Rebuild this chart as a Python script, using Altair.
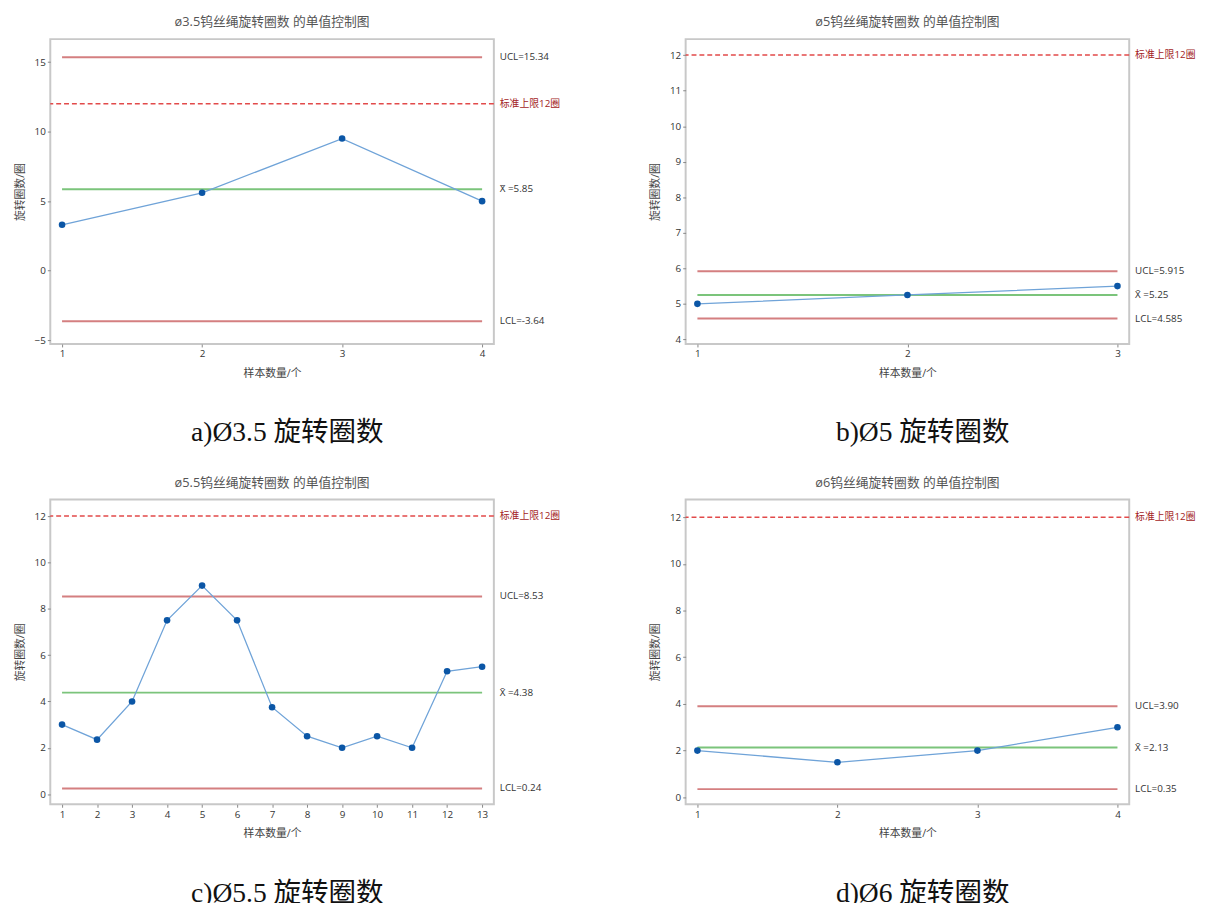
import altair as alt
import pandas as pd

# ---------------- data ----------------
a_vals = [3.3, 5.6, 9.5, 5.0]
b_vals = [5.0, 5.25, 5.5]
c_vals = [3.0, 2.35, 4.0, 7.5, 9.0, 7.5, 3.75, 2.5, 2.0, 2.5, 2.0, 5.3, 5.5]
d_vals = [2.0, 1.5, 2.0, 3.0]

a_limits = [15.34, 5.85, -3.64]
b_limits = [5.915, 5.25, 4.585]
c_limits = [8.53, 4.38, 0.24]
d_limits = [3.90, 2.13, 0.35]

a_labels = ["UCL=15.34", "X\u0304 =5.85", "LCL=-3.64"]
b_labels = ["UCL=5.915", "X\u0304 =5.25", "LCL=4.585"]
c_labels = ["UCL=8.53", "X\u0304 =4.38", "LCL=0.24"]
d_labels = ["UCL=3.90", "X\u0304 =2.13", "LCL=0.35"]

spec_value = 12
spec_label = "标准上限12圈"
limit_kinds = ["UCL", "mean", "LCL"]

titles = ["ø3.5钨丝绳旋转圈数 的单值控制图", "ø5钨丝绳旋转圈数 的单值控制图",
          "ø5.5钨丝绳旋转圈数 的单值控制图", "ø6钨丝绳旋转圈数 的单值控制图"]
captions = ["a)Ø3.5  旋转圈数", "b)Ø5  旋转圈数", "c)Ø5.5  旋转圈数", "d)Ø6  旋转圈数"]

a_ydom, a_yticks = [-5.27, 16.65], [-5, 0, 5, 10, 15]
b_ydom, b_yticks = [3.87, 12.45], [4, 5, 6, 7, 8, 9, 10, 11, 12]
c_ydom, c_yticks = [-0.44, 12.72], [0, 2, 4, 6, 8, 10, 12]
d_ydom, d_yticks = [-0.3, 12.76], [0, 2, 4, 6, 8, 10, 12]

# ---------------- style ----------------
W, H = 451, 310
RED = "#D47F80"
GREEN = "#7BC47B"
LINE = "#6FA3D8"
DOT = "#0B56A6"
SPEC = "#E24A4A"
SPEC_TXT = "#A31C1C"
FONT = "Open Sans, Noto Sans CJK SC, sans-serif"
CAP_FONT = "Liberation Serif, Noto Sans CJK SC, serif"


def panel(vals, lims, labs, title, ydom, yticks, caption):
    n = len(vals)
    pts = pd.DataFrame({"x": list(range(1, n + 1)), "y": vals})
    lim = pd.DataFrame({"y": lims, "x1": [1] * 3, "x2": [n] * 3, "kind": limit_kinds})
    txt = pd.DataFrame({"y": lims + [spec_value], "label": labs + [spec_label],
                        "c": ["#333333"] * 3 + [SPEC_TXT]})
    pad = 0.028 * (n - 1)
    xs = alt.Scale(domain=[1 - pad, n + pad], nice=False, zero=False)
    ys = alt.Scale(domain=ydom, nice=False, zero=False)
    xaxis = alt.Axis(tickCount=n, tickMinStep=1, format="d", title="样本数量/个",
                     labelOverlap=False, labelFlush=False)
    X = alt.X("x:Q", scale=xs, axis=xaxis)
    Y = alt.Y("y:Q", scale=ys, axis=alt.Axis(values=yticks, format="d", title="旋转圈数/圈"))

    spec = alt.Chart(pd.DataFrame({"y": [spec_value]})).mark_rule(
        color=SPEC, strokeDash=[5, 3], strokeWidth=1.5).encode(y=Y)
    rules = alt.Chart(lim).mark_rule(strokeWidth=2).encode(
        x=alt.X("x1:Q", scale=xs, axis=xaxis),
        x2="x2:Q", y=Y,
        color=alt.Color("kind:N", scale=alt.Scale(domain=limit_kinds, range=[RED, GREEN, RED]),
                        legend=None))
    line = alt.Chart(pts).mark_line(color=LINE, strokeWidth=1.3).encode(x=X, y=Y)
    dots = alt.Chart(pts).mark_point(filled=True, size=45, color=DOT, opacity=1).encode(x=X, y=Y)
    texts = alt.Chart(txt).mark_text(align="left", baseline="middle", dx=6, fontSize=10,
                                     font=FONT).encode(
        x=alt.value(W), y=Y, text="label:N", color=alt.Color("c:N", scale=None))
    layer = alt.layer(spec, rules, line, dots, texts).properties(
        width=W, height=H,
        title=alt.TitleParams(title, fontSize=13, color="#555555", font=FONT,
                              fontWeight="normal", offset=10, anchor="middle"))
    return alt.vconcat(layer, title=alt.TitleParams(
        caption, orient="bottom", anchor="middle", fontSize=28, font=CAP_FONT,
        fontWeight="normal", color="#111111", offset=41))


pa = panel(a_vals, a_limits, a_labels, titles[0], a_ydom, a_yticks, captions[0])
pb = panel(b_vals, b_limits, b_labels, titles[1], b_ydom, b_yticks, captions[1])
pc = panel(c_vals, c_limits, c_labels, titles[2], c_ydom, c_yticks, captions[2])
pd_ = panel(d_vals, d_limits, d_labels, titles[3], d_ydom, d_yticks, captions[3])

chart = alt.vconcat(
    alt.hconcat(pa, pb, spacing=88),
    alt.hconcat(pc, pd_, spacing=88),
    spacing=29,
).properties(
    padding={"top": 0, "left": 5, "right": 5, "bottom": 5}
).configure(background="white").configure_view(
    stroke="#C8C8C8", strokeWidth=2
).configure_axis(
    domain=False, grid=False, tickColor="#888888", tickSize=3, labelFontSize=10,
    labelColor="#333333", labelFont=FONT, titleFont=FONT, titleFontSize=11,
    titleColor="#444444", titleFontWeight="normal", labelPadding=2, titlePadding=9
)

chart.save("out.html", embed_options={"renderer": "svg", "actions": False})
